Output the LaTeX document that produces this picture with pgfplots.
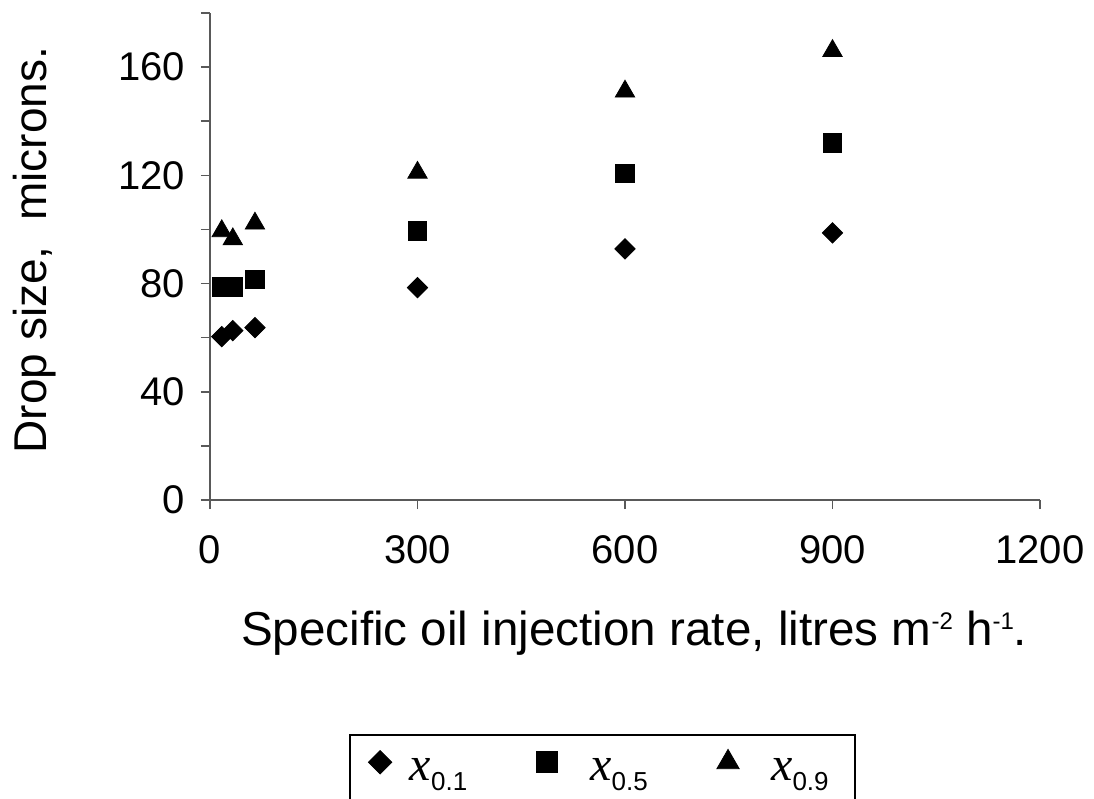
\documentclass[border=0pt]{standalone}
\usepackage{pgfplots}
\pgfplotsset{compat=1.18}
\usepackage{fontspec}
\setmainfont{Liberation Sans}
\newfontfamily\serifx{Liberation Serif}
\newcommand{\xsub}[1]{\raisebox{-9pt}{{\fontsize{24}{24}\selectfont\serifx\itshape x}\raisebox{-5pt}{\fontsize{13}{13}\selectfont #1}}}
\begin{document}
\begin{tikzpicture}
\begin{axis}[
  scale only axis,
  width=415pt, height=243.5pt,
  xmin=0, xmax=1200, ymin=0, ymax=180,
  axis x line*=bottom, axis y line*=left,
  axis line style={black!65, line width=0.8pt},
  xtick={0,300,600,900,1200},
  ytick={0,40,80,120,160},
  minor ytick={20,60,100,140,180},
  tick align=outside,
  major tick length=4.5pt, minor tick length=4.5pt,
  every tick/.style={black!65, line width=0.8pt},
  tick label style={font=\fontsize{20}{22}\selectfont},
  xticklabel style={yshift=-9.5pt},
  yticklabel style={xshift=-4.5pt},
  /pgf/number format/assume math mode=true,
  /pgf/number format/1000 sep={},
  xlabel={Specific oil injection rate, litres m\raisebox{8pt}{\fontsize{12}{12}\selectfont -2} h\raisebox{8pt}{\fontsize{12}{12}\selectfont -1}.},
  ylabel={Drop size,\ \ microns.},
  label style={font=\fontsize{23}{25}\selectfont},
  xlabel style={font=\fontsize{23.8}{25}\selectfont, at={(axis description cs:0.511,-0.298)}, anchor=base},
  ylabel style={at={(axis description cs:-0.211,0.513)}, anchor=center},
  legend columns=3,
  legend style={at={(0.1687,-0.499)}, anchor=north west, draw=none, fill=none,
    inner xsep=9pt, inner ysep=3pt,
    /tikz/every odd column/.append style={column sep=7pt},
    /tikz/every even column/.append style={column sep=32.5pt}},
  legend image post style={every mark/.append style={scale=1.15}},
  legend cell align=left,
]
\addplot[only marks, mark=square*, mark options={rotate=45, fill=black, draw=black, line width=0.4pt}, mark size=3.6pt]
  coordinates {(17,60.4) (33,62.6) (65,63.7) (300,78.5) (600,92.8) (900,98.7)};
\addlegendentry{\xsub{0.1}}
\addplot[only marks, mark=square*, mark options={fill=black, draw=black, line width=0.4pt}, mark size=4.6pt]
  coordinates {(17,78.7) (33,78.7) (65,81.5) (300,99.5) (600,120.7) (900,132)};
\addlegendentry{\hspace{7.5pt}\xsub{0.5}\hspace{13pt}}
\addplot[only marks, mark=triangle*, mark options={fill=black, draw=black, line width=0.4pt}, mark size=5.6pt]
  coordinates {(17,99.4) (33,96.4) (65,102.2) (300,121) (600,151) (900,166)};
\addlegendentry{\hspace{7pt}\xsub{0.9}}
\coordinate (bl) at (rel axis cs:0,0);
\coordinate (tr) at (rel axis cs:1,1);
\end{axis}
\draw[line width=1.2pt] ([shift={(70pt,-117.5pt)}]bl) rectangle ([shift={(322.5pt,-170pt)}]bl);
\pgfresetboundingbox
\path[use as bounding box] ([shift={(-105pt,-149.5pt)}]bl) rectangle ([shift={(27pt,6.5pt)}]tr);
\end{tikzpicture}
\end{document}
